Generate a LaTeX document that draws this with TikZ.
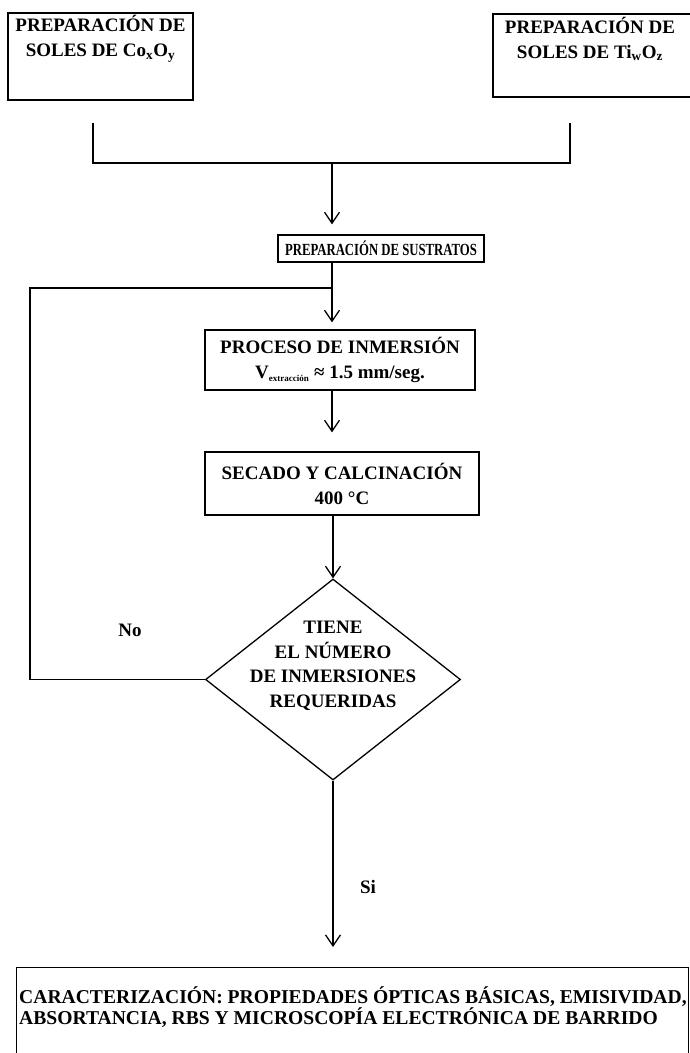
\documentclass[tikz,border=0pt]{standalone}
\usepackage{fontspec}
\setmainfont{Liberation Serif}
\usetikzlibrary{arrows.meta,shapes.geometric}
\begin{document}
\begin{tikzpicture}[x=1pt,y=-1pt,
  ln/.style={line width=1.3pt},
  box/.style={draw, ln, inner sep=0pt},
  txt/.style={font=\fontsize{19}{25}\selectfont\bfseries, align=center, inner sep=0pt},
  smalltxt/.style={font=\fontsize{17}{18}\selectfont\bfseries, align=center, inner sep=0pt},
  arr/.style={ln, -{Straight Barb[length=11pt,width=15pt,line width=1.3pt]}}]
\useasboundingbox (0,0) rectangle (690,1053);

% top boxes
\node[box, minimum width=185pt, minimum height=87pt] (solco) at (100.5,56.5) {};
\node[txt] (tsolco) at (100.5,39) {PREPARACIÓN DE\\SOLES DE Co\textsubscript{x}O\textsubscript{y}};
\node[box, minimum width=199pt, minimum height=83pt] (solti) at (592.5,55.5) {};
\node[txt] (tsolti) at (590,39) {PREPARACIÓN DE\\SOLES DE Ti\textsubscript{w}O\textsubscript{z}};

% merge
\coordinate (a1) at (93,123);
\coordinate (a2) at (570,123);
\coordinate (m) at (332,163);
\draw[ln] (a1) |- (m) -| (a2);

% sustratos
\node[box, smalltxt, minimum width=206pt, minimum height=27pt] (sus) at (381,248.5) {\scalebox{0.75}[1]{PREPARACIÓN DE SUSTRATOS}};
\draw[arr, shorten >=10pt] (m) -- (m |- sus.north);

% proceso
\node[box, txt, minimum width=270pt, minimum height=60pt] (pro) at (340,360)
  {PROCESO DE INMERSIÓN\\V\textsubscript{\fontsize{9}{9}\selectfont extracción} ≈ 1.5 mm/seg.};
\draw[arr, shorten >=7pt] (sus.south -| m) -- (m |- pro.north);

% loop
\coordinate (lp) at (30,288);

% secado
\node[box, txt, minimum width=274pt, minimum height=63pt] (sec) at (342,483.5)
  {SECADO Y CALCINACIÓN\\400 °C};
\draw[arr, shorten >=19pt] (pro.south -| m) -- (m |- sec.north);

% decision
\node[diamond, draw, ln, minimum width=255pt, minimum height=201pt, inner sep=0pt] (dia) at (333,679.5) {};
\node[txt, font=\fontsize{19}{24.5}\selectfont\bfseries] (tdia) at (333,666) {TIENE\\EL NÚMERO\\DE INMERSIONES\\REQUERIDAS};
\draw[arr] (sec.south -| dia.north) -- (dia.north);
\draw[ln] (dia.west) -| (lp) -- (lp -| m);
\node[txt] (no) at (130,630) {No};

% final
\node[box, anchor=north west, minimum width=672pt, minimum height=100pt] (car) at (16,967) {};
\node[txt, align=left, anchor=west, font=\fontsize{19.6}{21}\selectfont\bfseries] (tcar) at (19,1007)
  {CARACTERIZACIÓN: PROPIEDADES ÓPTICAS BÁSICAS, EMISIVIDAD,\\ABSORTANCIA, RBS Y MICROSCOPÍA ELECTRÓNICA DE BARRIDO};
\draw[arr, shorten >=20pt] (dia.south) -- (dia.south |- car.north);
\node[txt] (si) at (368,887) {Si};
\end{tikzpicture}
\end{document}
